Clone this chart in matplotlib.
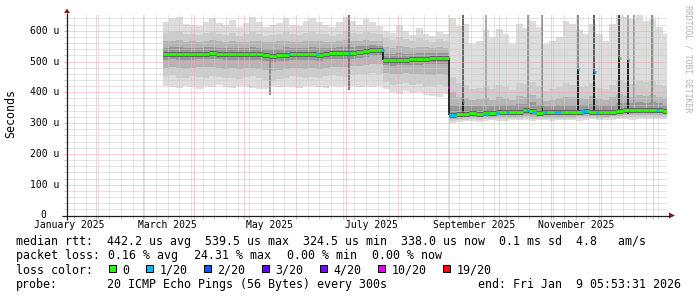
import numpy as np
import pandas as pd
import matplotlib
matplotlib.use("Agg")
import matplotlib.pyplot as plt
import matplotlib.dates as mdates
import matplotlib.transforms as mtransforms
from matplotlib.patches import Rectangle, Polygon

plt.rcParams['font.family'] = 'DejaVu Sans Mono'

# ---------------- data (rtt values in microseconds) ----------------
graph_end = pd.Timestamp("2026-01-09 05:53:31")
graph_days = 360
t_start = "2025-03-13"      # first 4-day bin with data
n_bins = 76

# median rtt per 4-day bin
median = [525, 526, 525, 524, 525, 526, 526, 527, 526, 524, 525, 524, 524, 525, 523, 521, 519,
          521, 522, 525, 524, 523, 524, 522, 526, 527, 527, 527, 528, 530, 535, 536, 536,
          505, 505, 506, 506, 507, 507, 509, 510, 510, 510,
          328, 329, 331, 332, 331, 332, 333, 335, 336, 336, 337, 342, 338, 334, 335, 336, 336,
          335, 336, 337, 338, 337, 336, 336, 337, 339, 341, 342, 344, 344, 343, 341, 340]

# smoke envelopes, outer (0) to inner (3)
smoke_hi0 = [628, 640, 645, 622, 620, 615, 630, 640, 626, 618, 635, 612, 625, 645, 630, 612, 618,
             625, 640, 620, 615, 632, 643, 628, 620, 612, 630, 645, 632, 620, 638, 627, 615,
             600, 592, 620, 598, 585, 610, 590, 582, 596, 588,
             640, 617, 622, 558, 568, 601, 579, 606, 590, 558, 622, 610, 633, 611, 558, 568, 579,
             633, 622, 601, 590, 622, 590, 568, 622, 650, 644, 639, 650, 633, 639, 611, 590]
smoke_hi1 = [592, 595, 598, 588, 590, 585, 594, 596, 590, 586, 592, 584, 590, 596, 590, 584, 586,
             590, 596, 588, 585, 592, 596, 590, 588, 584, 590, 598, 594, 590, 596, 592, 588,
             575, 570, 580, 572, 568, 575, 570, 565, 572, 568,
             450, 430, 425, 410, 415, 420, 412, 425, 418, 408, 430, 428, 435, 420, 405, 412, 418,
             430, 425, 420, 418, 430, 415, 410, 425, 440, 430, 428, 438, 432, 436, 425, 420]
smoke_hi2 = [566, 568, 570, 565, 566, 562, 568, 570, 566, 563, 566, 562, 565, 568, 566, 562, 563,
             566, 568, 565, 563, 566, 568, 566, 565, 562, 566, 570, 568, 566, 570, 568, 566,
             548, 545, 550, 546, 545, 548, 546, 543, 546, 545,
             400, 385, 380, 375, 378, 382, 376, 385, 380, 374, 388, 385, 392, 380, 372, 376, 380,
             386, 384, 380, 378, 388, 378, 375, 384, 395, 388, 386, 392, 388, 392, 385, 380]
smoke_hi3 = [545, 546, 547, 545, 545, 543, 546, 547, 545, 543, 545, 543, 544, 546, 545, 541, 540,
             542, 546, 545, 543, 545, 546, 544, 545, 545, 547, 548, 548, 549, 552, 553, 552,
             526, 525, 527, 526, 526, 527, 527, 528, 529, 529,
             360, 355, 356, 355, 355, 357, 356, 360, 360, 358, 362, 362, 368, 360, 355, 357, 358,
             360, 360, 358, 360, 362, 360, 358, 360, 365, 364, 364, 368, 366, 368, 364, 360]
smoke_lo3 = [506, 507, 506, 505, 506, 507, 507, 508, 507, 505, 506, 505, 505, 506, 504, 502, 500,
             502, 503, 506, 505, 504, 505, 503, 507, 508, 508, 508, 509, 511, 516, 517, 517,
             488, 487, 488, 488, 489, 489, 491, 492, 492, 492,
             318, 320, 322, 323, 322, 323, 324, 326, 326, 326, 327, 330, 328, 325, 326, 327, 327,
             326, 327, 328, 329, 328, 327, 327, 328, 330, 332, 333, 335, 335, 334, 332, 331]
smoke_lo2 = [480, 482, 478, 476, 480, 482, 481, 483, 480, 477, 479, 476, 478, 480, 476, 472, 470,
             474, 476, 480, 478, 476, 480, 476, 480, 482, 483, 482, 484, 486, 490, 492, 492,
             462, 458, 460, 462, 458, 460, 456, 455, 458, 457,
             312, 314, 316, 317, 316, 317, 318, 319, 320, 320, 321, 323, 321, 319, 320, 320, 321,
             320, 321, 322, 323, 322, 321, 321, 322, 324, 325, 326, 328, 328, 327, 326, 325]
smoke_lo1 = [452, 455, 448, 446, 452, 450, 448, 454, 450, 446, 448, 444, 450, 452, 445, 440, 438,
             444, 448, 452, 450, 446, 450, 446, 452, 455, 452, 450, 455, 458, 460, 462, 460,
             432, 425, 428, 430, 425, 428, 422, 420, 425, 422,
             306, 309, 311, 312, 311, 312, 313, 313, 314, 315, 315, 317, 315, 314, 314, 314, 315,
             315, 315, 316, 317, 316, 315, 316, 317, 318, 319, 319, 320, 321, 320, 319, 318]
smoke_lo0 = [420, 418, 415, 422, 418, 412, 420, 416, 425, 418, 413, 420, 417, 415, 410, 412, 420,
             418, 422, 416, 414, 419, 421, 417, 415, 420, 418, 422, 419, 416, 420, 418, 421,
             410, 400, 395, 405, 398, 402, 392, 388, 385, 395,
             300, 305, 306, 308, 305, 307, 309, 306, 308, 310, 309, 311, 308, 310, 309, 307, 310,
             311, 309, 308, 310, 312, 309, 311, 310, 312, 313, 311, 312, 314, 312, 313, 312]

# single-interval outliers (vertical streaks)
streak_dates = ["2025-05-16 12:00", "2025-07-03 00:00", "2025-09-09 00:00", "2025-09-09 00:00",
                "2025-09-23 00:00", "2025-10-18 00:00", "2025-10-26 10:00", "2025-10-26 10:00",
                "2025-11-17 00:00", "2025-11-17 00:00", "2025-11-27 00:00", "2025-11-27 00:00",
                "2025-12-12 00:00", "2025-12-12 00:00", "2025-12-17 00:00", "2025-12-17 00:00",
                "2025-12-21 00:00", "2025-12-31 10:00"]
streak_lo = [390, 406, 330, 368, 340, 340, 335, 357, 330, 477, 330, 466, 330, 510, 330, 504, 340, 340]
streak_hi = [520, 650, 368, 650, 650, 650, 357, 650, 477, 650, 466, 650, 510, 650, 504, 650, 650, 650]
streak_gray = ["#8c8c8c", "#7a7a7a", "#222222", "#666666", "#aaaaaa", "#9a9a9a", "#333333",
               "#8a8a8a", "#222222", "#8a8a8a", "#222222", "#5a5a5a", "#222222", "#4a4a4a",
               "#222222", "#a6a6a6", "#999999", "#8c8c8c"]

# intervals with packet loss (median coloured by loss)
loss_dates = ["2025-05-27 00:00", "2025-06-13 00:00", "2025-07-02 00:00", "2025-07-22 00:00",
              "2025-08-31 00:00", "2025-09-01 00:00", "2025-09-09 00:00", "2025-09-22 00:00",
              "2025-09-29 00:00", "2025-10-05 00:00", "2025-10-17 00:00", "2025-10-20 00:00",
              "2025-10-26 10:00", "2025-10-28 00:00", "2025-11-03 00:00", "2025-11-17 00:00",
              "2025-11-19 00:00", "2025-11-27 00:00", "2025-11-28 00:00", "2025-12-12 00:00",
              "2025-12-17 00:00", "2026-01-03 00:00"]
loss_days = [1.5, 1.5, 1.5, 1.5, 1.0, 4, 1, 2, 1.5, 1.5, 1.5, 3, 1, 1.5, 4, 1, 4, 1, 1.5, 1, 1, 1.5]
loss_rtt = [524, 523, 527, 538, 417, 328, 368, 330, 333, 335, 343, 335, 357, 335, 336,
            477, 338, 466, 335, 510, 504, 341]
loss_level = [1, 1, 1, 1, 5, 1, 1, 1, 1, 1, 1, 1, 0, 1, 1, 1, 1, 1, 1, 0, 1, 1]

loss_labels = ["0", "1/20", "2/20", "3/20", "4/20", "10/20", "19/20"]
loss_colors = ["#26ff00", "#00b8ff", "#0059ff", "#5e00ff", "#7e00ff", "#dd00ff", "#ff0000"]

month_labels = ["January 2025", "March 2025", "May 2025", "July 2025", "September 2025", "November 2025"]
month_starts = ["2025-01-01", "2025-03-01", "2025-05-01", "2025-07-01", "2025-09-01", "2025-11-01"]

y_ticks = [0, 100, 200, 300, 400, 500, 600]

legend_rows = [
    [("median rtt:  442.2 us avg  539.5 us max  324.5 us min  338.0 us now  0.1 ms sd  4.8   am/s", 16)],
    [("packet loss:", 16), ("0.16 % avg", 108), ("24.31 % max", 194.2), ("0.00 % min", 286.7),
     ("0.00 % now", 372.4)],
    [("loss color:", 16)],
    [("probe:", 16), ("20 ICMP Echo Pings (56 Bytes) every 300s", 107.3),
     ("end: Fri Jan  9 05:53:31 2026", 478.3)],
]

# ---------------- figure ----------------
W, H = 697, 297
fig = plt.figure(figsize=(W / 100, H / 100), dpi=100)
fig.patch.set_facecolor("white")
ax = fig.add_axes([66.5 / W, 1 - 215.5 / H, 600 / W, 202 / H])
x0 = graph_end - pd.Timedelta(days=graph_days)
ax.set_xlim(mdates.date2num(x0), mdates.date2num(graph_end))
ax.set_ylim(0, 656)
for s in ax.spines.values():
    s.set_visible(False)

edges = mdates.date2num(pd.date_range(t_start, periods=n_bins + 1, freq="4D"))

# smoke
shades = ["#dddddd", "#cdcdcd", "#b5b5b5", "#979797"]
his = [smoke_hi0, smoke_hi1, smoke_hi2, smoke_hi3]
los = [smoke_lo0, smoke_lo1, smoke_lo2, smoke_lo3]
for hi, lo, c in zip(his, los, shades):
    ax.stairs(hi, edges, baseline=lo, fill=True, color=c, lw=0, antialiased=False, zorder=1)

sd = mdates.date2num(pd.to_datetime(streak_dates))
ax.vlines(sd, streak_lo, streak_hi, colors=streak_gray, lw=1.4, zorder=2)

# median
med = np.array(median)
ax.hlines(med, edges[:-1], edges[1:], color="#5a5a5a", lw=3.4, zorder=3)
jump = np.where(np.abs(np.diff(med)) > 10)[0]
ax.vlines(edges[jump + 1], med[jump], med[jump + 1], color="#2a2a2a", lw=1.4, zorder=4)
ax.hlines(med, edges[:-1], edges[1:], color=loss_colors[0], lw=2.0, zorder=5)
ld = mdates.date2num(pd.to_datetime(loss_dates))
ax.hlines(loss_rtt, ld, ld + np.array(loss_days), colors=[loss_colors[k] for k in loss_level],
          lw=2.0, zorder=6)

# grid (dotted, drawn over the smoke like rrdtool does)
ax.set_axisbelow(False)
ax.set_yticks(y_ticks)
ax.set_yticks(np.arange(0, 656, 20), minor=True)
ax.xaxis.set_major_locator(mdates.MonthLocator())
ax.xaxis.set_minor_locator(mdates.WeekdayLocator(byweekday=mdates.SU))
ax.grid(which="major", color="#efa8a8", lw=0.72, ls=(0, (1, 1)))
ax.grid(which="minor", color="#cacaca", lw=0.72, ls=(0, (1, 1)))
ax.tick_params(which="major", length=2.5, width=0.72, color="#efa8a8", labelbottom=False, labelleft=False)
ax.tick_params(which="minor", length=2, width=0.72, color="#cacaca")

# tick labels
yt = mtransforms.blended_transform_factory(ax.transAxes, ax.transData)
for v in y_ticks:
    if v == 0:
        ax.text(-20.0 / 600, v, "0", transform=yt, ha="right", va="center", fontsize=7, color="black")
    else:
        ax.text(-7.0 / 600, v, f"{v} u", transform=yt, ha="right", va="center", fontsize=7, color="black")
xt = mtransforms.blended_transform_factory(ax.transData, ax.transAxes)
for lab, ms in zip(month_labels, month_starts):
    xd = mdates.date2num(pd.Timestamp(ms) + pd.Timedelta(days=15))
    ax.text(xd, -12.0 / 202, lab, transform=xt, ha="center", va="baseline", fontsize=7,
            clip_on=False)

# overlay in pixel coords
ov = fig.add_axes([0, 0, 1, 1])
ov.set_xlim(0, W)
ov.set_ylim(H, 0)
ov.axis("off")
ov.patch.set_alpha(0)

ov.plot([62, 669.5], [215.5, 215.5], color="#1f1f1f", lw=0.9, solid_capstyle="butt")
ov.plot([67.0, 67.0], [219.5, 12.5], color="#1f1f1f", lw=0.9, solid_capstyle="butt")
ov.add_patch(Polygon([(669, 212.5), (669, 218.5), (675, 215.5)], closed=True, color="#801f1f", lw=0))
ov.add_patch(Polygon([(64, 13), (70, 13), (67, 8.5)], closed=True, color="#801f1f", lw=0))

ov.text(10.5, 113.5, "Seconds", rotation=90, ha="center", va="center", fontsize=8.4)
ov.text(688, 59, "RRDTOOL / TOBI OETIKER", rotation=270, ha="center", va="center",
        fontsize=5.9, color="#b4b4b4")

baselines = [245.0, 259.3, 273.5, 287.7]
for row, yb in zip(legend_rows, baselines):
    for txt, xp in row:
        ov.text(xp, yb, txt, ha="left", va="baseline", fontsize=8.4)

# loss colour legend
cw = 7.02
bx = 109.0
for lab, col in zip(loss_labels, loss_colors):
    ov.add_patch(Rectangle((bx, 264.5), 7, 7, facecolor=col, edgecolor="black", lw=0.72))
    tx = bx + 13.5
    ov.text(tx, baselines[2], lab, ha="left", va="baseline", fontsize=8.4)
    bx = tx + len(lab) * cw + 16.5

fig.savefig("out.png", dpi=100, facecolor="white")
